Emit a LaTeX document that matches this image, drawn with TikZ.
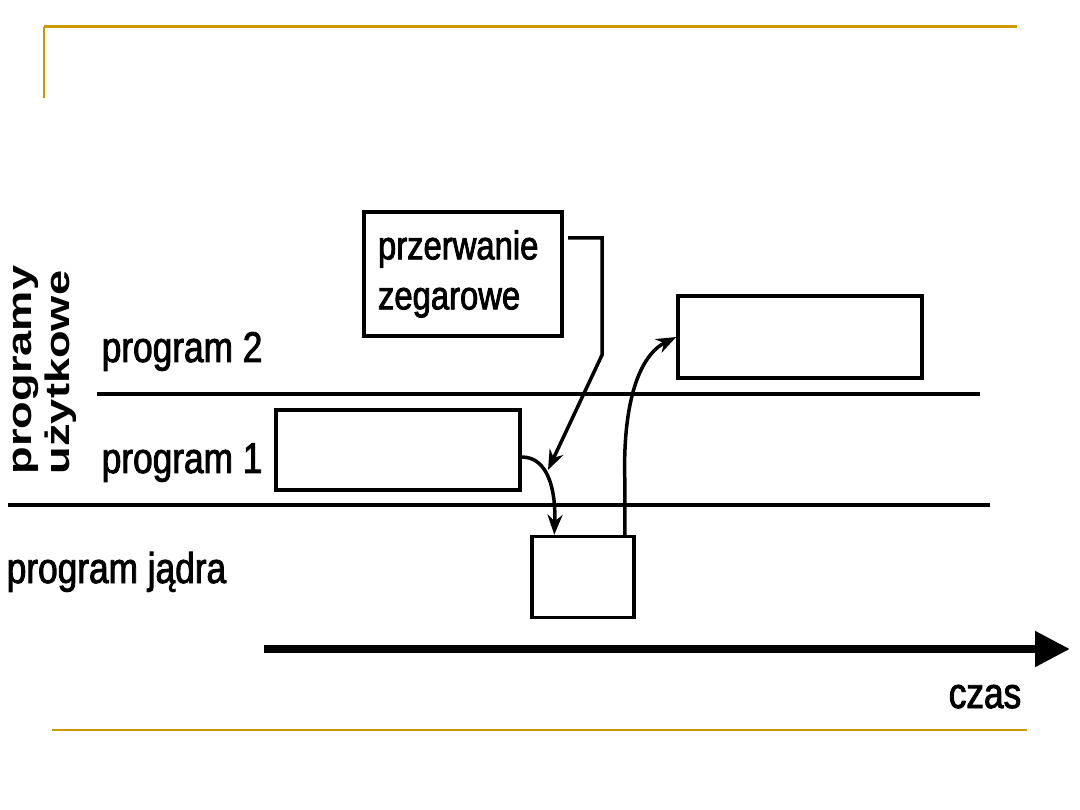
\documentclass[tikz,border=0pt]{standalone}
\usepackage{fontspec}
\setmainfont{Liberation Sans}[FakeStretch=0.82,FakeBold=2]
\newfontfamily\pionfont{Liberation Sans Bold}[FakeStretch=1.33]
\usetikzlibrary{arrows.meta,calc}
\definecolor{zloty}{RGB}{204,153,0}

\begin{document}
\begin{tikzpicture}[x=1pt,y=-1pt,line width=3.5pt,>={Stealth[length=20pt,width=15pt]},
  blok/.style={draw,line width=3.5pt,inner sep=0pt},
  etykieta/.style={font=\fontsize{43}{43}\selectfont,inner sep=0pt}]
  \useasboundingbox (0,0) rectangle (1080,810);
  % ramka slajdu
  \draw[zloty,line width=3pt] (44,27) -- (1017,27);
  \draw[zloty,line width=2pt] (44,27) -- (44,98);
  \draw[zloty,line width=2pt] (52,730) -- (1027,730);
  % poziomy (linie podzialu)
  \draw[line width=4pt] (97,394) -- (980,394);
  \draw[line width=4pt] (8,505) -- (990,505);
  % opisy poziomow
  \node[rotate=90,align=left,inner sep=0pt,font=\pionfont\fontsize{34}{38}\selectfont] (uzyt) at (45,370) {programy\\użytkowe};
  \node[etykieta,anchor=base west] (prog2) at (100,362) {program 2};
  \node[etykieta,anchor=base west] (prog1) at (100,473) {program 1};
  \node[etykieta,anchor=base west] (jadrolab) at (5,583) {program jądra};
  % bloki wykonania
  \node[blok,minimum width=198,minimum height=124,align=left,text width=170,font=\fontsize{40}{50}\selectfont] (zegar) at (463,274) {przerwanie\\zegarowe};
  \node[blok,minimum width=244,minimum height=82] (p2) at (800,337) {};
  \node[blok,minimum width=244,minimum height=80] (p1) at (398,450) {};
  \node[blok,minimum width=102,minimum height=81] (jadro) at (583,577) {};
  % przerwanie
  \coordinate (zs) at (568,238); \coordinate (zk) at (602,355); \coordinate (ze) at (548,470);
  \draw[->] (zs) -| (zk) -- (ze);
  % przelaczenia
  \draw[->] ($(p1.east)+(0,7)$) .. controls (548,457) and (556,490) .. ($(jadro.north west)+(24,0)$);
  \draw[->] ($(jadro.north east)+(-11,0)$) -- ++(0,-57) .. controls (623,400) and (640,355) .. (p2.west);
  % os czasu
  \coordinate (t0) at (264,649); \coordinate (t1) at (1070,649);
  \draw[line width=8pt,-{Triangle[length=35pt,width=34pt]}] (t0) -- (t1);
  \node[etykieta,anchor=base] (czas) at (985,708) {czas};
\end{tikzpicture}
\end{document}
